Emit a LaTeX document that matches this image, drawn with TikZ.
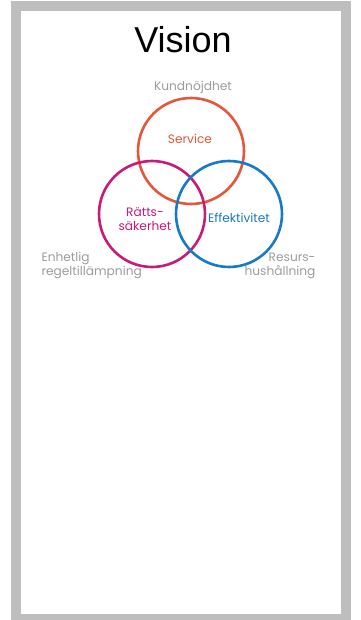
\documentclass[tikz,border=0pt]{standalone}
\usepackage{fontspec}
\setmainfont{Poppins}
\newfontfamily\titlefont{Liberation Sans}
\usetikzlibrary{positioning}

\definecolor{servicered}{HTML}{E4573A}
\definecolor{rattmagenta}{HTML}{C81A78}
\definecolor{effblue}{HTML}{1879C9}
\definecolor{labelgray}{HTML}{9C9C9C}
\definecolor{framegray}{HTML}{BEBEBE}

\tikzset{
  ring/.style={circle,draw=#1,line width=2.6pt,minimum size=106pt,inner sep=0pt},
  aim/.style={text=#1,font=\fontsize{12.2}{14.5}\selectfont,align=center},
  goal/.style={text=labelgray,font=\fontsize{12.2}{14}\selectfont}
}

\begin{document}
\begin{tikzpicture}[x=1pt,y=-1pt]
  \useasboundingbox (0,0) rectangle (360,620);
  % frame
  \fill[framegray] (11,1) rectangle (351,620);
  \fill[white] (21,11) rectangle (341,614);

  \node [font=\titlefont\fontsize{36}{40}\selectfont] (title) at (183,40) {Vision};

  % the three circles
  \node [ring=servicered] (service) at (191,151) {};
  \node [ring=rattmagenta] (ratt) at (152,214) {};
  \node [ring=effblue] (eff) at (229,214) {};

  \node [aim=servicered] (servicetxt) at (190,139) {Service};
  \node [aim=rattmagenta] (ratttxt) at (145,219) {Rätts-\\säkerhet};
  \node [aim=effblue] (efftxt) at (239,218) {Effektivitet};

  % outer labels
  \node [goal] (kund) at (193,87) {Kundnöjdhet};
  \node [goal,align=left,anchor=west] (enhet) at (38,266) {Enhetlig\\regeltillämpning};
  \node [goal,align=right,anchor=east] (resurs) at (319,266) {Resurs-\\hushållning};
\end{tikzpicture}
\end{document}
